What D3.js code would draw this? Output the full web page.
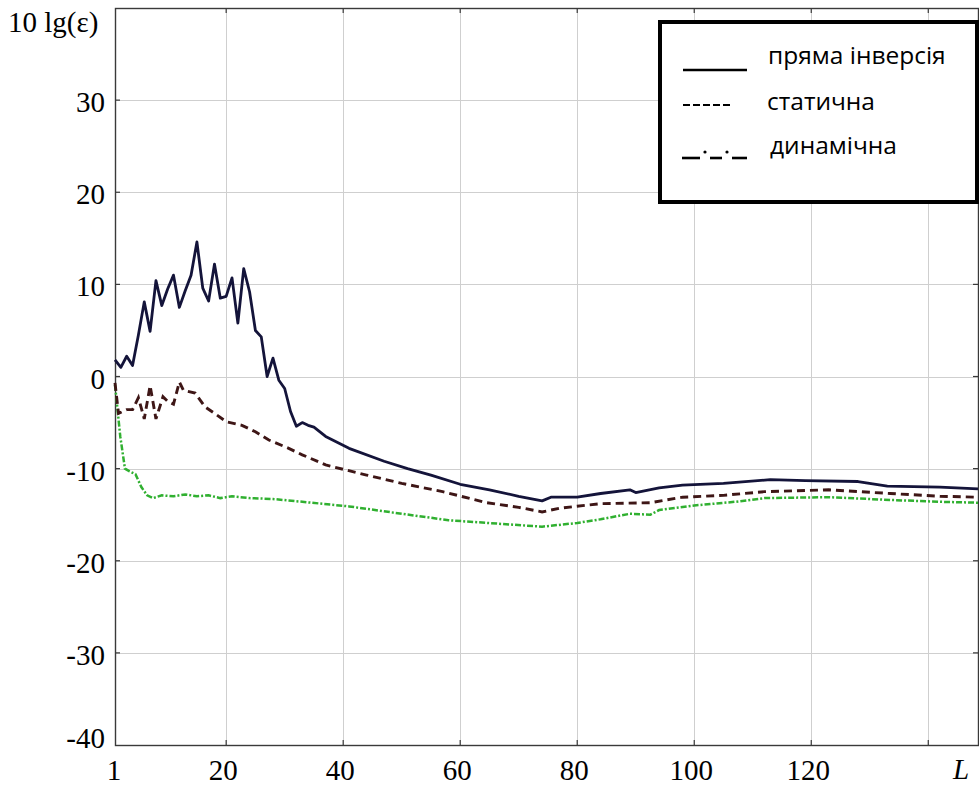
<!DOCTYPE html>
<html>
<head>
<meta charset="utf-8">
<script src="https://cdn.jsdelivr.net/npm/d3@7"></script>
<style>
  html, body { margin: 0; padding: 0; background: #fff; }
  svg { display: block; }
</style>
</head>
<body>
<svg id="chart" width="979" height="787"></svg>
<script>
// Filter length L (x) against 10 lg(ε) in dB (y)
const directL = [1, 2, 3, 4, 5, 6, 7, 8, 9, 10, 11, 12, 13, 14, 15, 16, 17, 18, 19, 20,
  21, 22, 23, 24, 25, 26, 27, 28, 29, 30, 31, 32, 33, 34, 35, 37, 41, 47, 51, 55,
  60, 65, 70, 74, 75.5, 80, 84, 89, 90, 94, 98, 105, 113, 119, 128, 133, 142, 148.5];
const directVals = [1.8, 1.0, 2.2, 1.2, 4.5, 8.1, 4.9, 10.4, 7.7, 9.5, 11.0, 7.5, 9.3, 11.0, 14.6, 9.6, 8.2, 12.2, 8.5, 8.7,
  10.7, 5.8, 11.7, 9.2, 5.0, 4.3, 0.0, 2.0, -0.4, -1.3, -3.8, -5.4, -5.0, -5.3, -5.5, -6.5, -7.8, -9.2, -10.0, -10.7,
  -11.7, -12.3, -13.0, -13.5, -13.1, -13.1, -12.7, -12.3, -12.6, -12.1, -11.8, -11.6, -11.2, -11.3, -11.4, -11.9, -12.0, -12.2];

const staticL = [1, 1.6, 3, 4, 5, 6, 7, 8, 9.2, 10, 11, 12, 12.7, 14.7, 16.4, 18, 20, 22.7, 25, 27.3,
  30.7, 33, 37, 44, 50, 57, 64.5, 70, 74, 77, 84, 92.5, 98, 105, 112, 123, 133.5, 142, 148.5];
const staticVals = [-0.7, -4.0, -3.6, -3.6, -2.3, -4.6, -1.0, -4.6, -2.2, -2.7, -3.0, -0.6, -1.5, -1.8, -3.3, -4.0, -4.9, -5.3, -6.0, -6.9,
  -7.8, -8.5, -9.6, -10.7, -11.6, -12.5, -13.7, -14.2, -14.7, -14.3, -13.8, -13.7, -13.1, -12.9, -12.5, -12.3, -12.7, -13.0, -13.1];

const dynamicL = [1, 1.9, 2.7, 3.5, 4.5, 5.5, 6.5, 7.5, 9, 11, 13, 15, 17, 19, 21, 24, 28, 33, 41, 50,
  58, 67, 74, 80, 84, 89, 92.5, 94, 100, 107, 112, 123, 133.5, 142, 148.5];
const dynamicVals = [-0.9, -6.5, -10.0, -10.3, -10.6, -12.0, -12.9, -13.2, -12.9, -13.0, -12.8, -13.0, -12.9, -13.2, -13.0, -13.2, -13.3, -13.6, -14.1, -14.9,
  -15.6, -16.0, -16.3, -15.9, -15.5, -14.9, -15.0, -14.5, -14.0, -13.6, -13.2, -13.1, -13.4, -13.6, -13.7];

const xTickLabels = [1, 20, 40, 60, 80, 100, 120];
const xGridValues = [20, 40, 60, 80, 100, 120, 140];
const yTickLabels = [-40, -30, -20, -10, 0, 10, 20, 30];
const yGridValues = [-30, -20, -10, 0, 10, 20, 30];
const legendNames = ["пряма інверсія", "статична", "динамічна"];

const svg = d3.select("#chart");
const plotLeft = 115, plotRight = 978, plotTop = 8, plotBottom = 745;

const x = d3.scaleLinear().domain([1, 148.5]).range([plotLeft, plotRight]);
const y = d3.scaleLinear().domain([-40, 40]).range([plotBottom, plotTop]);

const serif = "'Liberation Serif', 'Times New Roman', serif";
const plainNumber = d => String(d);

// grid
const grid = svg.append("g").attr("stroke", "#cfcfcf").attr("stroke-width", 1);
grid.selectAll("line.v").data(xGridValues).join("line")
  .attr("x1", d => Math.round(x(d)) + 0.5).attr("x2", d => Math.round(x(d)) + 0.5)
  .attr("y1", plotTop).attr("y2", plotBottom);
grid.selectAll("line.h").data(yGridValues).join("line")
  .attr("y1", d => Math.round(y(d)) + 0.5).attr("y2", d => Math.round(y(d)) + 0.5)
  .attr("x1", plotLeft).attr("x2", plotRight);

// frame
svg.append("rect")
  .attr("x", plotLeft + 0.5).attr("y", plotTop + 0.5)
  .attr("width", plotRight - plotLeft).attr("height", plotBottom - plotTop)
  .attr("fill", "none").attr("stroke", "#3a3a3a").attr("stroke-width", 1.4);

// inward tick marks on all four sides
const tickLen = 5;
const ticks = svg.append("g").attr("stroke", "#3a3a3a").attr("stroke-width", 1.2);
ticks.selectAll("line.b").data(xGridValues).join("line")
  .attr("x1", d => x(d)).attr("x2", d => x(d)).attr("y1", plotBottom).attr("y2", plotBottom - tickLen);
ticks.selectAll("line.t").data(xGridValues).join("line")
  .attr("x1", d => x(d)).attr("x2", d => x(d)).attr("y1", plotTop).attr("y2", plotTop + tickLen);
ticks.selectAll("line.l").data(yGridValues).join("line")
  .attr("y1", d => y(d)).attr("y2", d => y(d)).attr("x1", plotLeft).attr("x2", plotLeft + tickLen);
ticks.selectAll("line.r").data(yGridValues).join("line")
  .attr("y1", d => y(d)).attr("y2", d => y(d)).attr("x1", plotRight).attr("x2", plotRight - tickLen);

// y axis labels
const yAxis = svg.append("g").attr("transform", `translate(${plotLeft},0)`)
  .call(d3.axisLeft(y).tickValues(yTickLabels).tickSize(0).tickPadding(10).tickFormat(plainNumber));
yAxis.select(".domain").remove();
yAxis.selectAll("text")
  .attr("font-family", serif).attr("font-size", 29).attr("fill", "#000")
  .attr("dy", d => d === -40 ? "0.1em" : "0.4em");

// x axis labels
const xAxis = svg.append("g").attr("transform", `translate(0,${plotBottom})`)
  .call(d3.axisBottom(x).tickValues(xTickLabels).tickSize(0).tickPadding(14).tickFormat(plainNumber));
xAxis.select(".domain").remove();
xAxis.selectAll("text")
  .attr("font-family", serif).attr("font-size", 29).attr("fill", "#000")
  .attr("dx", d => d === 1 ? "-0.05em" : "-0.12em");

// axis titles
svg.append("text").attr("x", 8).attr("y", 32)
  .attr("font-family", serif).attr("font-size", 29).attr("fill", "#000")
  .text("10 lg(ε)");
svg.append("text").attr("x", x(145.6)).attr("y", 779).attr("text-anchor", "middle")
  .attr("font-family", serif).attr("font-size", 29).attr("font-style", "italic").attr("fill", "#000")
  .text("L");

// curves
const line = d3.line().x(d => x(d[0])).y(d => y(d[1]));
const zip = (a, b) => a.map((v, i) => [v, b[i]]);

svg.append("path").datum(zip(dynamicL, dynamicVals))
  .attr("d", line).attr("fill", "none")
  .attr("stroke", "#30b030").attr("stroke-width", 2.5)
  .attr("stroke-dasharray", "6,2,2,2");

svg.append("path").datum(zip(staticL, staticVals))
  .attr("d", line).attr("fill", "none")
  .attr("stroke", "#3e1616").attr("stroke-width", 2.9)
  .attr("stroke-dasharray", "8,5");

svg.append("path").datum(zip(directL, directVals))
  .attr("d", line).attr("fill", "none")
  .attr("stroke", "#14143a").attr("stroke-width", 2.8)
  .attr("stroke-linejoin", "round");

// legend
const lg = svg.append("g");
lg.append("rect").attr("x", 660).attr("y", 22).attr("width", 317).attr("height", 180)
  .attr("fill", "#fff").attr("stroke", "#000").attr("stroke-width", 4);

lg.append("line").attr("x1", 683).attr("x2", 747).attr("y1", 70).attr("y2", 70)
  .attr("stroke", "#000").attr("stroke-width", 2.6);
lg.append("line").attr("x1", 683).attr("x2", 731).attr("y1", 105).attr("y2", 105)
  .attr("stroke", "#000").attr("stroke-width", 2.2).attr("stroke-dasharray", "7,3");
[[682, 700], [710, 722], [732, 747]].forEach(s => {
  lg.append("line").attr("x1", s[0]).attr("x2", s[1]).attr("y1", 158).attr("y2", 158)
    .attr("stroke", "#000").attr("stroke-width", 2.6);
});
[705, 727].forEach(cx => {
  lg.append("circle").attr("cx", cx).attr("cy", 152).attr("r", 1.6).attr("fill", "#000");
});

const legendX = [768, 767, 770];
const legendY = [64, 110, 154];
lg.selectAll("text.name").data(legendNames).join("text")
  .attr("x", (d, i) => legendX[i]).attr("y", (d, i) => legendY[i])
  .attr("font-family", "'Open Sans', 'Noto Sans', sans-serif").attr("font-size", 24.5).attr("fill", "#000")
  .text(d => d);
</script>
</body>
</html>
